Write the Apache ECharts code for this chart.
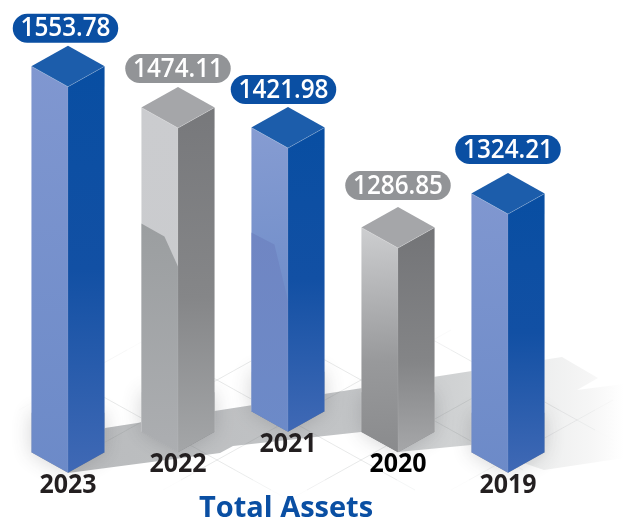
<!DOCTYPE html>
<html><head><meta charset="utf-8">
<style>html,body{margin:0;padding:0;background:#fff}#c{width:624px;height:528px}</style>
<script src="https://cdn.jsdelivr.net/npm/echarts@6/dist/echarts.min.js"></script>
</head><body><div id="c"></div>
<script>
// Data
const categories = ['2023', '2022', '2021', '2020', '2019'];
const totalAssets = [1553.78, 1474.11, 1421.98, 1286.85, 1324.21];
// The artwork is not drawn to scale: level each column top reaches on the axis
const drawnLevels = [1553.78, 1485, 1451.5, 1285, 1341.5];
const floorRows = [0, 1, 2, 1, 0];
const tones = ['blue', 'gray', 'blue', 'gray', 'blue'];
const titleText = 'Total Assets';

// Styling and layout
const FONT = '"Open Sans"';
const FLOOR_LEVEL = 842, ROW_STEP = 20.5, RISE = 20.5;
const pillShift = [[-2.5, 0], [0, -1], [-4.5, 0], [0, -4], [0, -6]];
const glare = { 1: [116, 129, 159], 2: [105, 117, 173] };
const grad = (x, y, x2, y2, stops) => ({ type: 'linear', x, y, x2, y2, colorStops: stops.map((c, i) => ({ offset: c[0], color: c[1] })) });
const palettes = [
  { top: '#1c5dab', pill: '#0a4fa3',
    left: grad(0, 0, 0.1, 1, [[0, '#8097d0'], [1, '#6c8ac8']]),
    right: grad(0, 0, 0.2, 1, [[0, '#084ea2'], [0.5, '#1250a4'], [1, '#4069b5']]) },
  { top: '#a5a6a9', pill: '#929497',
    left: grad(0, 0, 0, 1, [[0, '#cbcccf'], [1, '#c9cbcd']]),
    right: grad(0, 0, 0.2, 1, [[0, '#77787b'], [0.55, '#858688'], [1, '#a4a6a8']]),
    glare: grad(0, 0, 0, 1, [[0, '#9b9ea0'], [1, '#acaeb1']]) },
  { top: '#1c5dab', pill: '#0a4fa3',
    left: grad(0, 0, 0.35, 0.6, [[0, '#869cd2'], [1, '#6f8dc9']]),
    right: grad(0, 0, 0.2, 1, [[0, '#084ea2'], [0.5, '#1250a4'], [1, '#4069b5']]),
    glare: grad(0, 0, 0, 1, [[0, '#7086c3'], [1, '#6c8ac8']]) },
  { top: '#a5a6a9', pill: '#929497',
    left: grad(0, 0, 0.35, 1, [[0, '#cdced0'], [0.6, '#98999b'], [1, '#8a8b8d']]),
    right: grad(0, 0, 0.1, 1, [[0, '#737477'], [0.6, '#848587'], [1, '#a6a7a9']]) },
  { top: '#1c5dab', pill: '#0a4fa3',
    left: grad(0, 0, 0.1, 1, [[0, '#8097d0'], [1, '#6c8ac8']]),
    right: grad(0, 0, 0.2, 1, [[0, '#084ea2'], [0.5, '#1250a4'], [1, '#4069b5']]) }
];

function renderColumn(params, api) {
  const i = params.dataIndex;
  const cx = api.coord([api.value(0), 0])[0];
  const peak = api.coord([0, api.value(1)])[1];
  const row = api.value(2);
  const bottom = api.coord([0, FLOOR_LEVEL])[1] - row * ROW_STEP;
  const hw = api.size([1, 0])[0] / 3;
  const l = cx - hw, r = cx + hw;
  const p = palettes[i];
  const seam = { stroke: 'rgba(255,255,255,0.3)', lineWidth: 0.7 };
  const poly = (points, fill, z, extra) => ({ type: 'polygon', z2: z, shape: { points }, style: Object.assign({ fill }, extra || {}) });
  const kids = [
    poly([[l, bottom - RISE], [cx, bottom], [r, bottom - RISE], [r, bottom - 60], [l, bottom - 60]], 'rgba(80,82,85,0.5)', 1,
      { shadowBlur: 20, shadowColor: 'rgba(60,62,65,0.45)', shadowOffsetX: 0, shadowOffsetY: 0 }),
    poly([[l, peak + RISE], [cx, peak + 2 * RISE], [cx, bottom], [l, bottom - RISE]], p.left, 2),
    poly([[cx, peak + 2 * RISE], [r, peak + RISE], [r, bottom - RISE], [cx, bottom]], p.right, 2),
    poly([[cx, peak], [r, peak + RISE], [cx, peak + 2 * RISE], [l, peak + RISE]], p.top, 2)
  ];
  if (glare[i]) {
    const g = glare[i], c = peak + RISE;
    kids.push(poly([[l, c + g[0]], [l + hw * 0.63, c + g[1]], [cx, c + g[2]], [cx, bottom], [l, bottom - RISE]], p.glare, 3));
  }
  kids.push(
    { type: 'polyline', z2: 4, shape: { points: [[l, peak + RISE], [cx, peak + 2 * RISE], [r, peak + RISE]] }, style: Object.assign({ fill: null }, seam) },
    { type: 'polyline', z2: 4, shape: { points: [[l, bottom - RISE], [l, peak + RISE]] }, style: Object.assign({ fill: null }, seam) },
    { type: 'polyline', z2: 4, shape: { points: [[r, bottom - RISE], [r, peak + RISE]] }, style: Object.assign({ fill: null }, seam) },
    { type: 'polyline', z2: 4, shape: { points: [[cx, peak + 2 * RISE], [cx, bottom]] }, style: { fill: null, stroke: 'rgba(255,255,255,0.12)', lineWidth: 0.7 } }
  );
  const pw = 105.5, ph = 29;
  const px = cx + pillShift[i][0], py = peak - 3 + pillShift[i][1] - ph / 2;
  kids.push(
    { type: 'rect', z2: 5, shape: { x: px - pw / 2, y: py - ph / 2, width: pw, height: ph, r: ph / 2 }, style: { fill: p.pill } },
    { type: 'text', z2: 6, x: px, y: py + 0.5, scaleX: 0.9, style: { text: totalAssets[i].toFixed(2), x: 0, y: 0, align: 'center', verticalAlign: 'middle', fill: '#fff', font: `600 27px ${FONT}` } },
    { type: 'text', z2: 6, x: cx, y: bottom + 12.5, scaleX: 0.96, style: { text: categories[i], x: 0, y: 0, align: 'center', verticalAlign: 'middle', fill: i === 3 ? '#000' : '#231f20', font: `700 26px ${FONT}` } }
  );
  return { type: 'group', children: kids };
}

// Decorative floor behind the columns
function floorArt() {
  const out = [
    { type: 'polygon', z: 1, shape: { points: [[68, 473], [220, 453], [233, 446], [361, 432], [398, 452], [471, 445], [544, 470], [624, 458], [624, 384], [577, 390], [598, 378], [562, 357], [105, 428]] },
      style: { fill: { type: 'linear', x: 0, y: 0, x2: 1, y2: 0, colorStops: [
        { offset: 0, color: '#b9bbbd' }, { offset: 0.5, color: '#c2c4c6' }, { offset: 0.72, color: '#d2d4d5' },
        { offset: 0.84, color: '#eceded' }, { offset: 0.94, color: '#f6f6f6' }, { offset: 1, color: '#ffffff' }] } }, silent: true }
  ];
  const P = (u, v) => [289 + 72 * (u + v), 420 + 40 * (v - u)];
  const fade = (x, y) => Math.max(0, 1 - Math.pow((x - 320) / 300, 2) - Math.pow((y - 410) / 88, 2));
  const seg = (a, b) => {
    const mx = (a[0] + b[0]) / 2, my = (a[1] + b[1]) / 2, f = fade(mx, my);
    if (f > 0.02) out.push({ type: 'line', z: 2, silent: true, shape: { x1: a[0], y1: a[1], x2: b[0], y2: b[1] },
      style: { stroke: `rgba(120,122,125,${(0.17 * Math.min(1, f * 2.2)).toFixed(3)})`, lineWidth: 1 } });
  };
  for (let k = -4; k <= 4; k++) for (let t = -4; t < 4; t += 0.25) {
    seg(P(k, t), P(k, t + 0.25));
    seg(P(t, k), P(t + 0.25, k));
  }
  return out;
}

const chart = echarts.init(document.getElementById('c'), null, { renderer: 'canvas' });
chart.setOption({
  animation: false,
  backgroundColor: '#fff',
  title: { text: titleText, left: 281, textAlign: 'center', top: 489, textStyle: { color: '#0a4fa3', fontFamily: FONT, fontWeight: 700, fontSize: 29 } },
  graphic: { elements: floorArt() },
  grid: { left: 13, width: 550, top: 0, bottom: 0 },
  xAxis: { type: 'category', data: categories, show: false },
  yAxis: { type: 'value', min: 750, max: 1630, show: false },
  series: [{
    type: 'custom', z: 5, clip: false, renderItem: renderColumn,
    encode: { x: 0, y: 1 },
    data: categories.map((c, i) => [c, drawnLevels[i], floorRows[i], tones[i] === 'blue' ? 1 : 0])
  }]
});
</script></body></html>
